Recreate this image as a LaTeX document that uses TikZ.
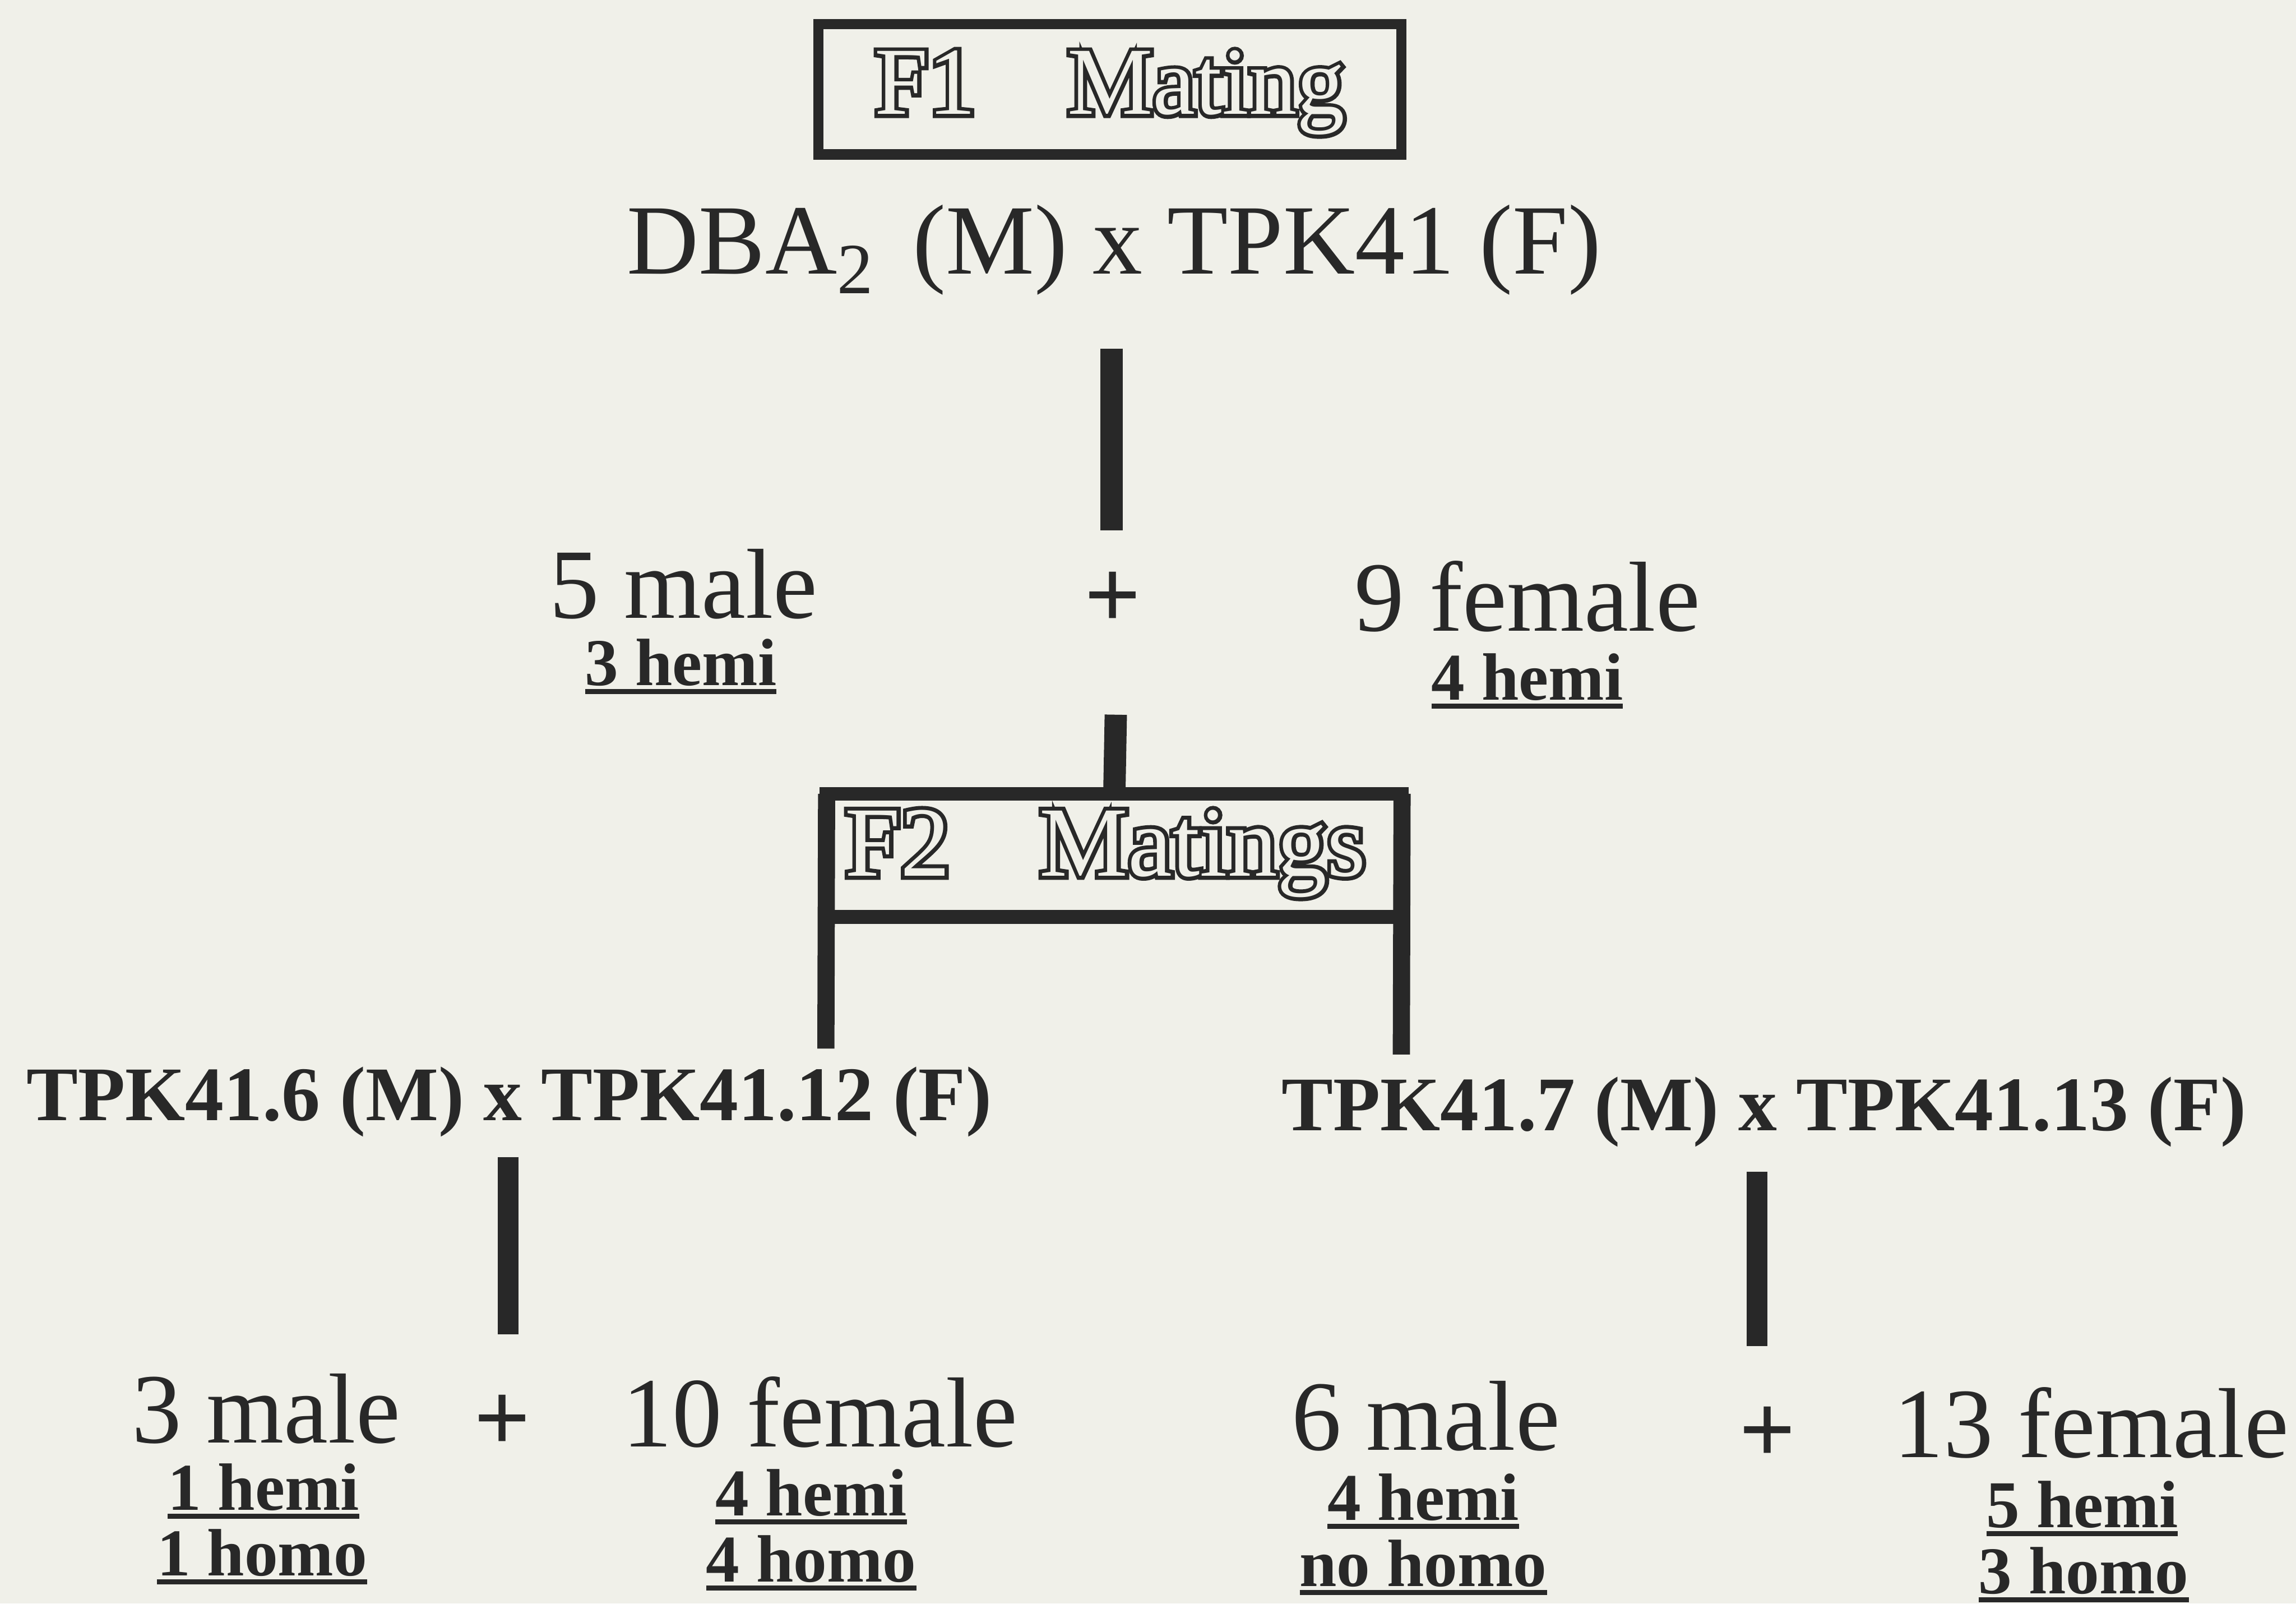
\documentclass[tikz,border=0pt]{standalone}
\usepackage{fontspec}
\setmainfont{Liberation Serif}
\newfontfamily\heavyserif[FakeBold=8]{Liberation Serif}

\definecolor{paper}{RGB}{240,240,233}
\definecolor{ink}{RGB}{40,40,40}

% thick underline for the genotype counts
\newsavebox\ulsave
\newcommand\thickul[1]{\sbox\ulsave{#1}\leavevmode\rlap{\rule[-0.13em]{\wd\ulsave}{0.075em}}\usebox\ulsave}

\tikzset{
  bigtxt/.style={font=\fontsize{58}{60}\selectfont, text=ink, inner sep=0pt, anchor=base},
  plustxt/.style={font=\bfseries\fontsize{58}{60}\selectfont, text=ink, inner sep=0pt, anchor=base},
  crosstxt/.style={font=\bfseries\fontsize{45}{47}\selectfont, text=ink, inner sep=0pt, anchor=base west},
  subtxt/.style={font=\bfseries\fontsize{39}{41}\selectfont, text=ink, inner sep=0pt, anchor=base},
  % hollow lettering: a stroked layer in ink, then a plain layer in paper colour on top
  titleline/.style={font=\heavyserif\fontsize{56}{58}\selectfont, text=ink, inner sep=0pt, anchor=base},
  titlefill/.style={font=\fontsize{56}{58}\selectfont, text=paper, inner sep=0pt, anchor=base},
  titlebox/.style={draw=ink, line width=6pt, inner sep=0pt, outer sep=0pt},
  bar/.style={draw=ink, line width=13pt},
  leg/.style={draw=ink, line width=10pt},
}

\begin{document}
\begin{tikzpicture}[x=0.03cm, y=-0.03cm]
  \fill[paper] (0,0) rectangle (1568,1095);
  \useasboundingbox (0,0) rectangle (1568,1095);

  % ---- F1 generation
  \node[titlebox, minimum width=398*0.03cm, minimum height=89*0.03cm] (f1box) at (758,61) {};
  \node[titleline] (f1title) at (758,78) {F1\hspace{0.95em}Mating};
  \node[titlefill] (f1inner) at (f1title.base) {F1\hspace{0.95em}Mating};
  \node[bigtxt, anchor=base west] (parents) at (428,187)
    {DBA\raisebox{-0.2em}{\fontsize{42}{42}\selectfont 2}\hspace{0.4em}(M) x TPK41 (F)};

  \coordinate (b1top) at (759,238);
  \coordinate (b1bot) at (759,362);
  \draw[bar] (b1top) -- (b1bot);

  % ---- F1 offspring
  \node[bigtxt, anchor=base west] (m5) at (375,422) {5 male};
  \node[subtxt] (m5h) at (465,468) {\thickul{3 hemi}};
  \node[plustxt] (plus1) at (760,429) {+};
  \node[bigtxt, anchor=base west] (f9) at (925,431) {9 female};
  \node[subtxt] (f9h) at (1043,478) {\thickul{4 hemi}};

  % ---- F2 generation
  \coordinate (b2top) at (762,488);
  \node[titlebox, line width=8pt, minimum width=393*0.03cm, minimum height=84*0.03cm] (f2box) at (761,584) {};
  \draw[bar] (b2top) -- (f2box.north);
  \node[titleline, font=\heavyserif\fontsize{58}{60}\selectfont] (f2title) at (755,598) {F2\hspace{0.9em}Matings};
  \node[titlefill, font=\fontsize{58}{60}\selectfont] (f2inner) at (f2title.base) {F2\hspace{0.9em}Matings};

  \coordinate (legL) at (564,716);
  \coordinate (legR) at (957,720);
  \draw[leg] (f2box.north west) -- (legL);
  \draw[leg] (f2box.north east) -- (legR);

  \node[crosstxt] (crossA) at (18,765) {TPK41.6 (M) x TPK41.12 (F)};
  \node[crosstxt] (crossB) at (875,772) {TPK41.7 (M) x TPK41.13 (F)};

  \coordinate (b3top) at (347,790);
  \coordinate (b3bot) at (347,911);
  \coordinate (b4top) at (1200,800);
  \coordinate (b4bot) at (1200,919);
  \draw[bar, line width=12pt] (b3top) -- (b3bot);
  \draw[bar, line width=12pt] (b4top) -- (b4bot);

  % ---- F2 offspring, left mating
  \node[bigtxt, anchor=base west] (m3) at (90,985) {3 male};
  \node[plustxt] (plus2) at (343,991) {+};
  \node[bigtxt, anchor=base west] (f10) at (425,988) {10 female};
  \node[subtxt] (m3h) at (180,1031) {\thickul{1 hemi}};
  \node[subtxt] (m3o) at (179,1076) {\thickul{1 homo}};
  \node[subtxt] (f10h) at (554,1035) {\thickul{4 hemi}};
  \node[subtxt] (f10o) at (554,1080) {\thickul{4 homo}};

  % ---- F2 offspring, right mating
  \node[bigtxt, anchor=base west] (m6) at (882,990) {6 male};
  \node[plustxt] (plus3) at (1207,999) {+};
  \node[bigtxt, anchor=base west] (f13) at (1293,995) {13 female};
  \node[subtxt] (m6h) at (972,1038) {\thickul{4 hemi}};
  \node[subtxt] (m6o) at (972,1083) {\thickul{no homo}};
  \node[subtxt] (f13h) at (1422,1043) {\thickul{5 hemi}};
  \node[subtxt] (f13o) at (1423,1088) {\thickul{3 homo}};
\end{tikzpicture}
\end{document}
